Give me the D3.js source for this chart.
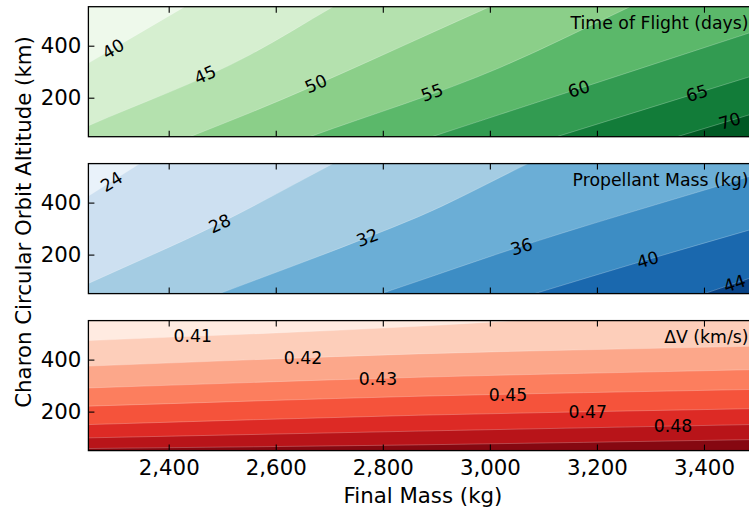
<!DOCTYPE html>
<html><head><meta charset="utf-8">
<script src="https://cdn.jsdelivr.net/npm/d3@7"></script>
<style>
body{margin:0;background:#fff}
svg{display:block}
text{font-family:"DejaVu Sans",sans-serif;fill:#000}
</style>
</head><body>
<svg id="c" width="749" height="507"></svg>
<script>
// ---------- data ----------
const xTicks = [2400, 2600, 2800, 3000, 3200, 3400];
const yTicks = [200, 400];
const massDomain = [2250, 3500];
const altDomain = [50, 550];

// Time of flight (days): contour boundaries as [final mass, altitude] points
const tofTitle = "Time of Flight (days)";
const tofLabels = ["40", "45", "50", "55", "60", "65", "70"];
const tofBoundaries = [
  [[2250, 333], [2430, 550]],
  [[2250, 92], [2552, 365], [2707, 550]],
  [[2440, 50], [2552, 142], [3000, 550]],
  [[2664, 50], [3018, 315], [3262, 550]],
  [[2892, 50], [3018, 135], [3486, 450]],
  [[3125, 50], [3486, 281]],
  [[3350, 50], [3486, 135]]
];
const tofLabelMass = [2296, 2468, 2675, 2892, 3166, 3387, 3448];

// Propellant mass (kg)
const propTitle = "Propellant Mass (kg)";
const propLabels = ["24", "28", "32", "36", "40", "44"];
const propBoundaries = [
  [[2250, 425], [2346, 550]],
  [[2250, 89], [2495, 320], [2707, 550]],
  [[2495, 50], [2771, 266], [2866, 345], [3071, 550]],
  [[2797, 50], [2866, 98], [3018, 205], [3484, 500]],
  [[3084, 50], [3295, 181], [3484, 294]],
  [[3401, 50], [3484, 108]]
];
const propLabelMass = [2293, 2495, 2771, 3059, 3295, 3457];

// Delta V (km/s)
const dvTitle = "\u0394V (km/s)";
const dvLabels = ["0.41", "0.42", "0.43", "0.45", "0.47", "0.48", null];
const dvBoundaries = [
  [[2250, 473], [2866, 528], [3052, 550]],
  [[2250, 375], [2866, 422], [3484, 451]],
  [[2250, 291], [2866, 332], [3484, 361]],
  [[2250, 221], [2866, 259], [3484, 285]],
  [[2250, 150], [2866, 186], [3484, 211]],
  [[2250, 99], [2866, 125], [3484, 150]],
  [[2250, 58], [2866, 72], [3484, 92]]
];
const dvLabelMass = [2445, 2651, 2791, 3034, 3183, 3342, null];

// ---------- styles ----------
const greens9 = ["#f7fcf5","#e5f5e0","#c7e9c0","#a1d99b","#74c476","#41ab5d","#238b45","#006d2c","#00441b"];
const blues9  = ["#f7fbff","#deebf7","#c6dbef","#9ecae1","#6baed6","#4292c6","#2171b5","#08519c","#08306b"];
const reds9   = ["#fff5f0","#fee0d2","#fcbba1","#fc9272","#fb6a4a","#ef3b2c","#cb181d","#a50f15","#67000d"];

const panels = [
  {title: tofTitle, labels: tofLabels, bounds: tofBoundaries, labelMass: tofLabelMass, cmap: greens9, top: 6.7, rotate: true},
  {title: propTitle, labels: propLabels, bounds: propBoundaries, labelMass: propLabelMass, cmap: blues9, top: 163.6, rotate: true},
  {title: dvTitle, labels: dvLabels, bounds: dvBoundaries, labelMass: dvLabelMass, cmap: reds9, top: 320.6, rotate: false}
];
const panelH = 130;
const left = 88.4, right = 757.5;
const tickFont = 21.3, labelFont = 21.3, smallFont = 17.3;

const svg = d3.select("#c");
const x = d3.scaleLinear().domain(massDomain).range([left, right]);
const smooth = d3.line().curve(d3.curveMonotoneX);

panels.forEach((p, pi) => {
  const y = d3.scaleLinear().domain(altDomain).range([p.top + panelH, p.top]);
  const cm = d3.piecewise(d3.interpolateRgb, p.cmap);
  const nb = p.bounds.length + 1;
  const bandColor = i => cm((i + 0.5) / nb);

  const clipId = "clip" + pi;
  svg.append("clipPath").attr("id", clipId).append("rect")
    .attr("x", left).attr("y", p.top).attr("width", right - left).attr("height", panelH);
  const g = svg.append("g").attr("clip-path", `url(#${clipId})`);

  g.append("rect").attr("x", left).attr("y", p.top).attr("width", right - left).attr("height", panelH)
    .attr("fill", bandColor(0));

  const bottomFar = p.top + panelH + 400;
  const pixLines = p.bounds.map(b => b.map(d => [x(d[0]), y(d[1])]));

  const extended = pixLines.map(pts => {
    const a = pts[0], b = pts[1];
    const n = pts.length;
    const c = pts[n - 2], d = pts[n - 1];
    const xs = -200, xe = 1000;
    const ys = a[1] + (b[1] - a[1]) / (b[0] - a[0]) * (xs - a[0]);
    const ye = c[1] + (d[1] - c[1]) / (d[0] - c[0]) * (xe - c[0]);
    return [[xs, ys], ...pts, [xe, ye]];
  });

  extended.forEach((line, k) => {
    const xs = line[0][0], xe = line[line.length - 1][0];
    const dPath = smooth(line) + `L${xe},${bottomFar}L${xs},${bottomFar}Z`;
    g.append("path").attr("d", dPath).attr("fill", bandColor(k + 1));
  });
  // faint seams between filled bands
  extended.forEach(line => {
    g.append("path").attr("d", smooth(line)).attr("fill", "none")
      .attr("stroke", "#ffffff").attr("stroke-opacity", 0.3).attr("stroke-width", 0.8);
  });

  // contour labels
  p.labels.forEach((lab, k) => {
    if (lab == null) return;
    const m = p.labelMass[k];
    const pts = p.bounds[k];
    let i = 0;
    while (i < pts.length - 2 && m > pts[i + 1][0]) i++;
    const p0 = pts[i], p1 = pts[i + 1];
    const t = (m - p0[0]) / (p1[0] - p0[0]);
    const alt = p0[1] + t * (p1[1] - p0[1]);
    const px = x(m), py = y(alt);
    const ang = p.rotate ? Math.atan2(y(p1[1]) - y(p0[1]), x(p1[0]) - x(p0[0])) * 180 / Math.PI : 0;
    svg.append("text").attr("transform", `translate(${px},${py}) rotate(${ang})`)
      .attr("text-anchor", "middle").attr("dy", "0.36em")
      .style("font-size", smallFont + "px").text(lab);
  });

  // frame
  svg.append("rect").attr("x", left).attr("y", p.top).attr("width", right - left).attr("height", panelH)
    .attr("fill", "none").attr("stroke", "#000").attr("stroke-width", 1.3);

  // ticks
  const bottomAx = d3.axisBottom(x).tickValues(xTicks).tickSizeInner(-6).tickSizeOuter(0).tickPadding(9)
    .tickFormat(pi === 2 ? d3.format(",") : () => "");
  const topAx = d3.axisTop(x).tickValues(xTicks).tickSizeInner(-6).tickSizeOuter(0).tickFormat(() => "");
  const leftAx = d3.axisLeft(y).tickValues(yTicks).tickSizeInner(-6).tickSizeOuter(0).tickPadding(7);
  [
    svg.append("g").attr("transform", `translate(0,${p.top + panelH})`).call(bottomAx),
    svg.append("g").attr("transform", `translate(0,${p.top})`).call(topAx),
    svg.append("g").attr("transform", `translate(${left},0)`).call(leftAx)
  ].forEach(ax => {
    ax.select(".domain").remove();
    ax.selectAll("line").attr("stroke", "#000").attr("stroke-width", 1.1);
    ax.selectAll("text").style("font-size", tickFont + "px").attr("font-family", "DejaVu Sans").attr("fill", "#000");
  });

  // panel title
  svg.append("text").attr("x", 748.5).attr("y", p.top + 22.7).attr("text-anchor", "end")
    .style("font-size", smallFont + "px").text(p.title);
});

svg.append("text").attr("x", (left + right) / 2).attr("y", 503).attr("text-anchor", "middle")
  .style("font-size", labelFont + "px").text("Final Mass (kg)");
svg.append("text").attr("transform", "translate(30.5,222) rotate(-90)").attr("text-anchor", "middle")
  .style("font-size", labelFont + "px").text("Charon Circular Orbit Altitude (km)");
</script>
</body></html>
